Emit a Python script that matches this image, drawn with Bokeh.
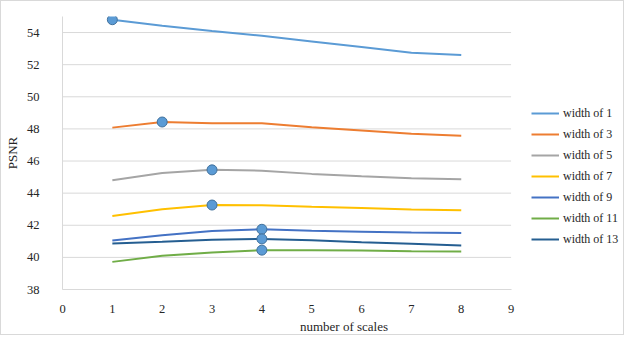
from bokeh.plotting import figure
from bokeh.models import Legend, LegendItem, Range1d, FixedTicker
from bokeh.embed import file_html
from bokeh.resources import INLINE

scales = [1, 2, 3, 4, 5, 6, 7, 8]
w1 = [54.8, 54.43, 54.1, 53.8, 53.45, 53.1, 52.75, 52.6]
w3 = [48.08, 48.43, 48.35, 48.35, 48.1, 47.9, 47.7, 47.57]
w5 = [44.8, 45.25, 45.45, 45.4, 45.2, 45.05, 44.92, 44.87]
w7 = [42.58, 43.0, 43.26, 43.25, 43.15, 43.07, 42.98, 42.93]
w9 = [41.05, 41.38, 41.65, 41.75, 41.66, 41.6, 41.55, 41.52]
w11 = [39.72, 40.1, 40.3, 40.45, 40.45, 40.43, 40.38, 40.37]
w13 = [40.87, 40.97, 41.1, 41.15, 41.07, 40.95, 40.85, 40.74]

names = ["width of 1", "width of 3", "width of 5", "width of 7",
         "width of 9", "width of 11", "width of 13"]
series = [w1, w3, w5, w7, w9, w11, w13]
colors = ["#5B9BD5", "#ED7D31", "#A5A5A5", "#FFC000", "#4472C4", "#70AD47", "#255E91"]

x_ticks = list(range(0, 10))
y_ticks = list(range(38, 55, 2))

# best-scale markers (x positions of maxima)
best_x = [1, 2, 3, 3, 4, 4, 4]
best_y = [s[scales.index(bx)] for s, bx in zip(series, best_x)]

FONT = "Liberation Serif"
TXT = "#262626"

W, H = 624, 335
LEFT, TOP, BOTTOM = 61, 15, 45
AXIS_RIGHT_PX = 508  # where x=9 sits
X_MAX = 9
x_end = X_MAX * (W - 2 - LEFT) / (AXIS_RIGHT_PX - LEFT)

p = figure(width=W, height=H, output_backend="svg", toolbar_location=None,
           x_range=Range1d(0, x_end), y_range=Range1d(38, 55),
           min_border_left=LEFT, min_border_right=0, min_border_top=TOP, min_border_bottom=BOTTOM)
p.styles = {"border": "1px solid #D9D9D9"}

p.outline_line_color = None
p.xgrid.grid_line_color = None
p.ygrid.grid_line_color = None

# horizontal gridlines limited to the axis extent
p.segment(x0=[0] * len(y_ticks), x1=[X_MAX] * len(y_ticks), y0=y_ticks, y1=y_ticks,
          line_color="#D9D9D9", line_width=1)

p.xaxis.ticker = FixedTicker(ticks=x_ticks)
p.yaxis.ticker = FixedTicker(ticks=y_ticks)
p.xaxis.bounds = (0, X_MAX)

for ax in (p.xaxis[0], p.yaxis[0]):
    ax.axis_line_color = "#D9D9D9"
    ax.axis_line_width = 1
    ax.major_tick_line_color = None
    ax.minor_tick_line_color = None
    ax.major_label_text_font = FONT
    ax.major_label_text_font_size = "12.5px"
    ax.major_label_text_color = TXT
    ax.axis_label_text_font = FONT
    ax.axis_label_text_font_size = "13px"
    ax.axis_label_text_font_style = "normal"
    ax.axis_label_text_color = TXT

p.xaxis.axis_label = "number of scales"
p.yaxis.axis_label = "PSNR"
p.xaxis.major_label_standoff = 9
p.xaxis.axis_label_standoff = 3
p.yaxis.major_label_standoff = 17
p.yaxis.axis_label_standoff = 4

items = []
for name, s, c in zip(names, series, colors):
    r = p.line(scales, s, line_color=c, line_width=2)
    items.append(LegendItem(label=name, renderers=[r]))

p.scatter(best_x, best_y, size=10, fill_color="#5B9BD5", line_color="#41719C", line_width=1)

legend = Legend(items=items, location=(469, 40), orientation="vertical",
                label_text_font=FONT, label_text_font_size="12px", label_text_color=TXT,
                glyph_width=28, glyph_height=20, label_height=20, spacing=1,
                label_standoff=4, padding=0, margin=0,
                border_line_color=None, background_fill_alpha=0)
p.add_layout(legend, "center")

open("out.html", "w").write(file_html(p, INLINE))
